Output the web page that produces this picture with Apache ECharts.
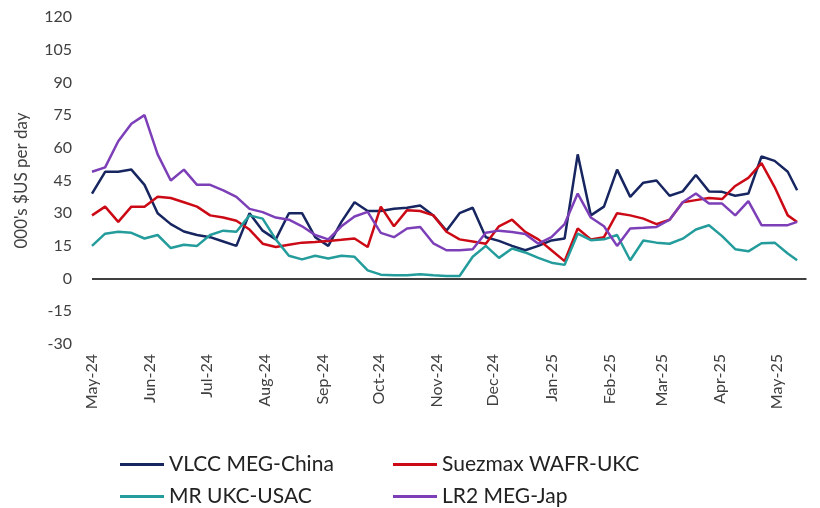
<!DOCTYPE html>
<html>
<head>
<meta charset="utf-8">
<script src="https://cdn.jsdelivr.net/npm/echarts@6/dist/echarts.min.js"></script>
<style>
html, body { margin: 0; padding: 0; background: #fff; }
#chart { width: 820px; height: 508px; }
</style>
</head>
<body>
<div id="chart"></div>
<script>
// weekly readings, 000's $US per day
var dates = ['2024-05-01','2024-05-08','2024-05-15','2024-05-22','2024-05-29','2024-06-05','2024-06-12','2024-06-19','2024-06-26',
  '2024-07-03','2024-07-10','2024-07-17','2024-07-24','2024-07-31','2024-08-07','2024-08-14','2024-08-21','2024-08-28',
  '2024-09-04','2024-09-11','2024-09-18','2024-09-25','2024-10-02','2024-10-09','2024-10-16','2024-10-23','2024-10-30',
  '2024-11-06','2024-11-13','2024-11-20','2024-11-27','2024-12-04','2024-12-11','2024-12-18','2024-12-25','2025-01-01',
  '2025-01-08','2025-01-15','2025-01-22','2025-01-29','2025-02-05','2025-02-12','2025-02-19','2025-02-26','2025-03-05',
  '2025-03-12','2025-03-19','2025-03-26','2025-04-02','2025-04-09','2025-04-16','2025-04-23','2025-04-30','2025-05-07','2025-05-12'];
var vlcc = [39, 49, 49, 50, 43, 30, 25, 21.6, 20, 19, 17, 15, 30, 22, 18, 30, 30, 19, 15, 26, 35, 31, 31, 32, 32.5, 33.5, 29,
  22, 30, 32.5, 19, 17.3, 15, 13, 15, 17.5, 18.4, 57, 29, 33, 50, 37.5, 44, 45, 38, 40, 47.5, 40, 39.8, 38, 39, 56, 54, 49, 40.5];
var suezmax = [29, 33, 26, 33, 33, 37.5, 37, 35, 33, 29, 28, 26.5, 22.5, 16, 14.5, 15.5, 16.5, 16.8, 17.3, 17.8, 18.4, 14.5, 33, 24, 31.4, 31, 29,
  21.5, 18, 17, 16, 24, 27, 21.4, 18, 13, 8, 23, 18, 19, 30, 29, 27.5, 25, 27, 35, 36, 37, 36.5, 42.5, 46.2, 53, 42, 29, 26];
var mr = [15, 20.6, 21.5, 21, 18.4, 20, 14, 15.5, 15, 20, 22, 21.5, 29, 27.5, 18, 10.5, 8.8, 10.5, 9.2, 10.5, 10, 3.8, 1.8, 1.5, 1.5, 2, 1.5,
  1.2, 1.2, 10, 15, 9.5, 13.8, 12, 9.5, 7.3, 6.3, 20.6, 17.6, 18, 20, 8.4, 17.5, 16.5, 16, 18.3, 22.5, 24.5, 19.5, 13.5, 12.5, 16.2, 16.5, 11.5, 8.4];
var lr2 = [49, 51, 63, 71, 75, 57, 45, 50, 43, 43, 40.5, 37.5, 32, 30.5, 28, 27, 24, 20, 18, 24, 28.5, 30.6, 21, 19, 23, 23.7, 16.2,
  13, 13, 13.5, 21, 22, 21.4, 20.5, 16, 19, 25, 39, 28, 24, 15, 23, 23.3, 23.7, 27, 35, 39, 34.4, 34.4, 29, 35.5, 24.5, 24.5, 24.5, 26];

var monthTicks = ['2024-05-01','2024-06-01','2024-07-01','2024-08-01','2024-09-01','2024-10-01','2024-11-01',
  '2024-12-01','2025-01-01','2025-02-01','2025-03-01','2025-04-01','2025-05-01'];
var monthLabels = ['May-24','Jun-24','Jul-24','Aug-24','Sep-24','Oct-24','Nov-24','Dec-24','Jan-25','Feb-25','Mar-25','Apr-25','May-25'];

function toTime(s) {
  var p = s.split('-');
  return Date.UTC(+p[0], +p[1] - 1, +p[2]);
}
var tickTimes = monthTicks.map(toTime);

function pairs(vals) {
  return dates.map(function (d, i) { return [toTime(d), vals[i]]; });
}

var FONT = 'Lato';
var chart = echarts.init(document.getElementById('chart'));

function lineSeries(name, vals, color) {
  return {
    name: name,
    type: 'line',
    data: pairs(vals),
    showSymbol: false,
    symbol: 'none',
    lineStyle: { color: color, width: 2.5 },
    itemStyle: { color: color },
    animation: false
  };
}

var series = [
  lineSeries('VLCC MEG-China', vlcc, '#172660'),
  lineSeries('Suezmax WAFR-UKC', suezmax, '#cc0a16'),
  lineSeries('MR UKC-USAC', mr, '#249c9c'),
  lineSeries('LR2 MEG-Jap', lr2, '#7d3fb8')
];
series[0].markLine = {
  silent: true,
  symbol: 'none',
  label: { show: false },
  lineStyle: { color: '#000', width: 1.5, type: 'solid' },
  data: [{ yAxis: 0 }]
};

function legendAt(name, left, top) {
  return {
    left: left,
    top: top,
    itemWidth: 44,
    itemHeight: 3,
    icon: 'rect',
    data: [name],
    textStyle: { fontFamily: FONT, fontSize: 21, color: '#222' }
  };
}

chart.setOption({
  backgroundColor: '#fff',
  textStyle: { fontFamily: FONT },
  grid: { left: 92, right: 13.5, top: 17, bottom: 164 },
  legend: [
    legendAt('VLCC MEG-China', 115, 449),
    legendAt('MR UKC-USAC', 115, 481),
    legendAt('Suezmax WAFR-UKC', 388, 449),
    legendAt('LR2 MEG-Jap', 388, 481)
  ],
  xAxis: {
    type: 'value',
    min: toTime('2024-05-01'),
    max: toTime('2025-05-17'),
    axisLine: { show: false },
    axisTick: { show: false },
    splitLine: { show: false },
    axisLabel: {
      customValues: tickTimes,
      rotate: 90,
      margin: 10,
      fontFamily: FONT,
      fontSize: 16,
      color: '#404040',
      formatter: function (v) {
        var i = tickTimes.indexOf(v);
        return i >= 0 ? monthLabels[i] : '';
      }
    }
  },
  yAxis: {
    type: 'value',
    min: -30,
    max: 120,
    interval: 15,
    name: "000's $US per day",
    nameLocation: 'middle',
    nameGap: 62,
    nameTextStyle: { fontFamily: FONT, fontSize: 17, color: '#404040' },
    axisLine: { show: false },
    axisTick: { show: false },
    splitLine: { show: false },
    axisLabel: { margin: 20, fontFamily: FONT, fontSize: 16, color: '#404040' }
  },
  series: series
});
</script>
</body>
</html>
